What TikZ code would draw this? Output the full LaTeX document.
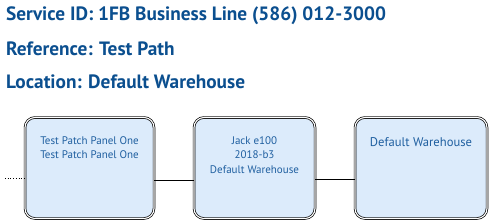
\documentclass[tikz,border=0pt]{standalone}
\usepackage{fontspec}
\setmainfont{PT Sans}
\definecolor{titleblue}{HTML}{0B4F8F}
\definecolor{boxtext}{HTML}{1F5FA0}
\definecolor{boxfill}{HTML}{DCEBFB}
\begin{document}
\begin{tikzpicture}[x=1pt,y=-1pt,
  title/.style={anchor=base west,inner sep=0pt,text=titleblue,font=\bfseries\fontsize{19.3}{22}\selectfont},
  devbox/.style={draw=black,line width=0.7pt,double=white,double distance=1.1pt,fill=boxfill,rounded corners=10pt,minimum height=101pt,inner sep=0pt},
  boxlabel/.style={anchor=north,inner sep=0pt,text=boxtext,align=center,font=\fontsize{11}{14.8}\selectfont},
  link/.style={draw=black,line width=0.7pt}]
\useasboundingbox (0,0) rectangle (490,223);
\node[title] (t1) at (6,20) {Service ID: 1FB Business Line (586) 012-3000};
\node[title] (t2) at (6,55) {Reference: Test Path};
\node[title] (t3) at (6,88) {Location: Default Warehouse};
\node[devbox,minimum width=129pt] (b1) at (89.5,168) {};
\node[devbox,minimum width=121pt] (b2) at (254.5,168) {};
\node[devbox,minimum width=132pt] (b3) at (421,168) {};
\node[boxlabel] (l1) at (89.5,136) {Test Patch Panel One\\Test Patch Panel One};
\node[boxlabel] (l2) at (254.5,136) {Jack e100\\2018-b3\\Default Warehouse};
\node[boxlabel,font=\fontsize{12.6}{14}\selectfont] (l3) at (421,137) {Default Warehouse};
\coordinate (free) at (5,178);
\draw[link,dotted] (free) -- (free -| b1.west);
\draw[link] (b1.east |- 0,180) -- (b2.west |- 0,180);
\draw[link] (b2.east |- 0,179) -- (b3.west |- 0,179);
\end{tikzpicture}
\end{document}
